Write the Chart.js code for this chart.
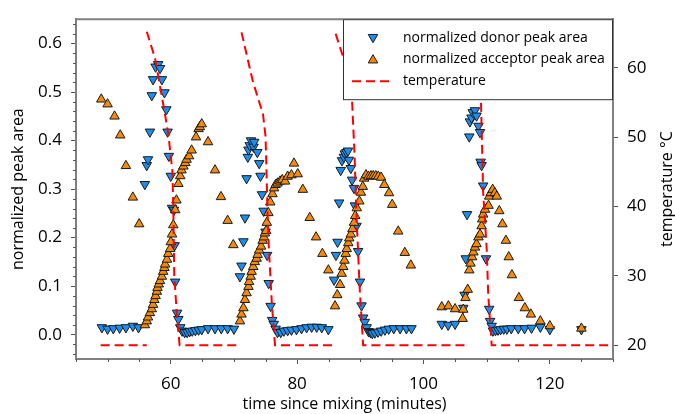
<!DOCTYPE html>
<html>
<head>
<meta charset="utf-8">
<script src="https://cdn.jsdelivr.net/npm/chart.js@4.4.1/dist/chart.umd.min.js"></script>
<style>
  html, body { margin: 0; padding: 0; background: #fff; }
  #wrap { width: 675px; height: 414px; position: relative; }
</style>
</head>
<body>
<div id="wrap"><canvas id="chart"></canvas></div>
<script>
"use strict";

// donor peak area (blue, inverted triangles)
const donorTime = [
  49.1, 50.0, 50.9, 51.9, 52.9, 54.0, 54.9,
  55.9, 56.2, 56.4, 56.7, 57.0, 57.2, 57.6, 58.0, 58.3, 58.6, 59.0, 59.3, 59.5, 59.7, 60.0, 60.2, 60.5, 60.6, 60.7, 61.0, 61.2, 61.5,
  61.8, 62.2, 62.6, 63.0, 63.4, 63.9, 64.4, 64.9, 65.9, 67.0, 68.0, 69.0, 70.0,
  70.95, 71.2, 71.5, 71.75, 72.0, 72.2, 72.3, 72.5, 72.7, 73.1, 73.2, 73.7, 74.0, 74.2, 74.45, 74.7, 75.0, 75.25, 75.5, 75.8, 76.05, 76.3,
  76.6, 76.9, 77.4, 77.9, 78.5, 79.1, 79.9, 80.7, 81.5, 82.3, 83.1, 83.9, 84.95,
  85.85, 86.15, 86.4, 86.65, 86.9, 87.1, 87.4, 87.55, 87.8, 88.05, 88.2, 88.5, 88.7, 89.0, 89.15, 89.4, 89.65, 89.95, 90.2, 90.45, 90.7, 91.0,
  91.3, 91.6, 91.9, 92.3, 92.8, 93.3, 93.9, 94.5, 95.3, 96.3, 97.3, 98.1,
  102.9, 103.9, 105.0, 106.3, 106.5, 106.7, 106.9, 107.25, 107.35, 107.6, 107.8, 108.15, 108.4, 108.7, 108.95, 109.05, 109.2, 109.45, 109.9, 110.4, 110.55, 110.8,
  111.0, 111.4, 111.8, 112.2, 112.7, 113.2, 113.9, 115.0, 116.0, 117.1, 118.5, 120.0, 125.0
];
const donorArea = [
  0.015, 0.012, 0.013, 0.014, 0.015, 0.018, 0.015,
  0.310, 0.349, 0.361, 0.418, 0.493, 0.526, 0.552, 0.557, 0.549, 0.526, 0.499, 0.464, 0.418, 0.368, 0.327, 0.261, 0.257, 0.184, 0.109, 0.045, 0.032, 0.015,
  0.008, 0.005, 0.005, 0.007, 0.008, 0.009, 0.010, 0.011, 0.013, 0.013, 0.013, 0.013, 0.012,
  0.120, 0.142, 0.192, 0.241, 0.322, 0.366, 0.381, 0.390, 0.400, 0.387, 0.397, 0.376, 0.353, 0.327, 0.289, 0.255, 0.212, 0.164, 0.106, 0.059, 0.030, 0.022,
  0.012, 0.005, 0.005, 0.008, 0.009, 0.010, 0.011, 0.013, 0.015, 0.016, 0.016, 0.015, 0.011,
  0.113, 0.164, 0.191, 0.272, 0.339, 0.359, 0.366, 0.373, 0.376, 0.379, 0.360, 0.343, 0.319, 0.302, 0.266, 0.224, 0.172, 0.109, 0.060, 0.035, 0.026, 0.015,
  0.007, 0.005, 0.003, 0.004, 0.006, 0.008, 0.010, 0.012, 0.013, 0.013, 0.013, 0.013,
  0.022, 0.020, 0.022, 0.055, 0.082, 0.157, 0.248, 0.408, 0.439, 0.447, 0.458, 0.462, 0.451, 0.430, 0.417, 0.356, 0.349, 0.307, 0.157, 0.053, 0.028, 0.018,
  0.008, 0.009, 0.010, 0.011, 0.012, 0.012, 0.013, 0.013, 0.013, 0.014, 0.016, 0.011, 0.011
];

// acceptor peak area (orange triangles)
const acceptorTime = [
  49.0, 50.0, 51.1, 52.0, 52.9, 54.0, 55.0,
  55.9, 56.2, 56.4, 56.7, 57.0, 57.2, 57.4, 57.6, 57.8, 57.9, 58.1, 58.3, 58.6, 58.8, 59.0, 59.1, 59.4, 59.6, 59.9, 60.0,
  60.2, 60.4, 60.7, 60.9, 61.2, 61.5, 61.7, 62.0, 62.3, 62.5, 62.9, 63.3, 64.0, 64.4, 64.6, 64.9,
  65.9, 67.0, 67.95, 69.0, 69.9,
  70.95, 71.2, 71.5, 71.75, 72.0, 72.3, 72.4, 72.65, 72.8, 73.05, 73.3, 73.6, 73.75, 74.0, 74.3, 74.55, 74.75, 74.9, 75.1, 75.2,
  75.45, 75.75, 76.1, 76.35, 76.6, 76.9, 77.3, 77.65, 78.1, 78.5, 79.1, 79.5, 80.1,
  80.9, 82.0, 83.0, 84.0, 84.95,
  86.0, 86.35, 86.8, 87.05, 87.3, 87.5, 87.7, 87.85, 88.1, 88.25, 88.5, 88.75, 89.0, 89.2, 89.45, 89.85, 90.1, 90.4, 90.6, 90.9,
  91.3, 91.7, 92.05, 92.45, 92.85, 93.3, 93.8, 94.55,
  95.05, 96.0, 97.05, 98.0,
  102.9, 103.95, 105.0, 106.2, 106.3, 106.65, 107.0, 107.25, 107.45, 107.7, 107.9, 108.15, 108.4, 108.7, 108.95, 109.2, 109.3, 109.45, 109.75, 110.3,
  110.4, 110.65, 110.95, 111.3, 111.6,
  112.0, 112.5, 113.05, 113.5, 114.0, 115.1, 116.05, 117.0, 118.5, 120.0, 125.0
];
const acceptorArea = [
  0.485, 0.475, 0.450, 0.411, 0.348, 0.283, 0.228,
  0.020, 0.028, 0.036, 0.045, 0.053, 0.062, 0.072, 0.080, 0.089, 0.097, 0.104, 0.111, 0.120, 0.130, 0.138, 0.145, 0.155, 0.167, 0.177, 0.191,
  0.207, 0.226, 0.257, 0.277, 0.311, 0.327, 0.339, 0.347, 0.354, 0.361, 0.368, 0.380, 0.407, 0.424, 0.428, 0.434,
  0.397, 0.339, 0.284, 0.235, 0.185,
  0.028, 0.042, 0.055, 0.072, 0.086, 0.099, 0.109, 0.120, 0.130, 0.140, 0.150, 0.157, 0.165, 0.174, 0.182, 0.194, 0.201, 0.209, 0.214, 0.231,
  0.251, 0.273, 0.290, 0.302, 0.309, 0.312, 0.316, 0.319, 0.316, 0.326, 0.329, 0.353, 0.331,
  0.299, 0.241, 0.201, 0.167, 0.133,
  0.059, 0.082, 0.103, 0.126, 0.140, 0.153, 0.167, 0.177, 0.189, 0.199, 0.207, 0.218, 0.231, 0.245, 0.261, 0.275, 0.293, 0.305, 0.322, 0.329,
  0.326, 0.327, 0.327, 0.327, 0.326, 0.324, 0.309, 0.292,
  0.268, 0.213, 0.169, 0.143,
  0.057, 0.059, 0.053, 0.033, 0.052, 0.076, 0.093, 0.133, 0.147, 0.160, 0.170, 0.180, 0.187, 0.201, 0.207, 0.224, 0.238, 0.248, 0.258, 0.266,
  0.285, 0.292, 0.299, 0.292, 0.285,
  0.255, 0.228, 0.194, 0.160, 0.123, 0.076, 0.055, 0.042, 0.028, 0.018, 0.013
];

// temperature trace, null = break in the line
const tempTime = [
  48.9, 56.2, 56.2,
  56.2, 57.5, 58.8, 59.6, 60.25, 60.4, 60.55, 61.0, 61.4, 70.9, 70.9,
  71.2, 73.0, 74.6, 75.0, 75.15, 75.3, 75.5, 76.0, 76.5, 85.9, 85.9,
  86.1, 87.2, 88.7, 89.1, 89.4, 89.9, 90.45, 106.8, 106.8,
  108.3, 108.8, 109.1, 109.45, 110.0, 110.25, 110.8, 130
];
const tempValue = [
  20, 20, null,
  65.2, 61.4, 54.8, 50.5, 45.2, 40, 30, 24, 20, 20, null,
  65.1, 58.0, 53.3, 50.1, 45.2, 39.6, 34.5, 26, 20, 20, null,
  64.9, 61.8, 55.2, 47.2, 38.7, 28.2, 20, 20, null,
  65, 60, 55.2, 42.0, 34.0, 27.3, 20, 20
];

const xTicks = [60, 80, 100, 120];
const xMinor = [45, 50, 55, 65, 70, 75, 85, 90, 95, 105, 110, 115, 125, 130];
const yTicks = [0, 0.1, 0.2, 0.3, 0.4, 0.5, 0.6];
const yMinor = [-0.04, -0.02, 0.02, 0.04, 0.06, 0.08, 0.12, 0.14, 0.16, 0.18, 0.22, 0.24, 0.26, 0.28,
  0.32, 0.34, 0.36, 0.38, 0.42, 0.44, 0.46, 0.48, 0.52, 0.54, 0.56, 0.58, 0.62, 0.64];
const y1Ticks = [20, 30, 40, 50, 60];

const FONT = "'Open Sans', sans-serif";
const BLUE = '#1b8ef0';
const ORANGE = '#f68a08';
const EDGE = '#1a1a1a';
const AXIS = '#808080';
const MARK = 5.5;

function toPoints(xs, ys)
{
    return xs.map((x, i) => ({x: x, y: ys[i]}));
}

function fixTicks(values)
{
    return function(scale) {
        scale.ticks = values.map(v => ({value: v}));
    };
}

// short minor ticks, top frame line, right title
const frameTicks = {
    id: 'frameTicks',
    afterDraw(chart)
    {
        const ctx = chart.ctx;
        const a = chart.chartArea;
        const xs = chart.scales.x;
        const ys = chart.scales.y;
        ctx.save();
        ctx.strokeStyle = '#555';
        ctx.lineWidth = 1;
        ctx.beginPath();
        xMinor.forEach(v => {
            const px = Math.round(xs.getPixelForValue(v)) + 0.5;
            ctx.moveTo(px, a.bottom);
            ctx.lineTo(px, a.bottom + 3);
        });
        yMinor.forEach(v => {
            const py = Math.round(ys.getPixelForValue(v)) + 0.5;
            ctx.moveTo(a.left - 3, py);
            ctx.lineTo(a.left, py);
        });
        ctx.stroke();
        ctx.strokeStyle = AXIS;
        ctx.lineWidth = 2;
        ctx.beginPath();
        ctx.moveTo(a.left - 1, a.top);
        ctx.lineTo(a.right + 1, a.top);
        ctx.stroke();

        // right axis title, reading upwards
        ctx.fillStyle = '#000';
        ctx.font = '16px ' + FONT;
        ctx.textAlign = 'center';
        ctx.textBaseline = 'middle';
        ctx.translate(667, (a.top + a.bottom) / 2);
        ctx.rotate(-Math.PI / 2);
        ctx.fillText('temperature \u00B0C', 0, 0);
        ctx.restore();
    }
};

// boxed legend in the top right corner of the plot
const boxLegend = {
    id: 'boxLegend',
    afterDraw(chart)
    {
        const ctx = chart.ctx;
        const a = chart.chartArea;
        const w = 270, h = 81;
        const x0 = a.right - w, y0 = a.top;
        ctx.save();
        ctx.fillStyle = '#fff';
        ctx.fillRect(x0, y0, w, h);
        ctx.strokeStyle = '#333';
        ctx.lineWidth = 1;
        ctx.strokeRect(x0 + 0.5, y0 + 0.5, w - 1, h - 1);

        ctx.lineWidth = 1;
        ctx.strokeStyle = EDGE;
        ctx.fillStyle = BLUE;
        Chart.helpers.drawPoint(ctx, {pointStyle: 'triangle', radius: MARK, rotation: 180, borderWidth: 1}, x0 + 30, y0 + 18);
        ctx.fillStyle = ORANGE;
        Chart.helpers.drawPoint(ctx, {pointStyle: 'triangle', radius: MARK, rotation: 0, borderWidth: 1}, x0 + 30, y0 + 41);

        ctx.strokeStyle = '#ff0000';
        ctx.lineWidth = 2;
        ctx.setLineDash([9, 5]);
        ctx.beginPath();
        ctx.moveTo(x0 + 9, y0 + 62);
        ctx.lineTo(x0 + 47, y0 + 62);
        ctx.stroke();
        ctx.setLineDash([]);

        ctx.fillStyle = '#000';
        ctx.font = '14px ' + FONT;
        ctx.textAlign = 'left';
        ctx.textBaseline = 'middle';
        ctx.fillText('normalized donor peak area', x0 + 60, y0 + 19);
        ctx.fillText('normalized acceptor peak area', x0 + 60, y0 + 40);
        ctx.fillText('temperature', x0 + 60, y0 + 62);
        ctx.restore();
    }
};

const tickFont = {family: FONT, size: 17};
const titleFont = {family: FONT, size: 16};

const ctx = document.getElementById('chart');
new Chart(ctx, {
    type: 'scatter',
    data: {
        datasets: [
            {
                label: 'temperature',
                data: toPoints(tempTime, tempValue),
                yAxisID: 'y1',
                showLine: true,
                spanGaps: false,
                borderColor: '#ff0000',
                borderWidth: 2,
                borderDash: [9, 5],
                pointRadius: 0,
                pointHoverRadius: 0,
                order: 0
            },
            {
                label: 'normalized acceptor peak area',
                data: toPoints(acceptorTime, acceptorArea),
                yAxisID: 'y',
                pointStyle: 'triangle',
                pointRadius: MARK,
                pointBackgroundColor: ORANGE,
                pointBorderColor: EDGE,
                pointBorderWidth: 1,
                order: 1
            },
            {
                label: 'normalized donor peak area',
                data: toPoints(donorTime, donorArea),
                yAxisID: 'y',
                pointStyle: 'triangle',
                pointRotation: 180,
                pointRadius: MARK,
                pointBackgroundColor: BLUE,
                pointBorderColor: EDGE,
                pointBorderWidth: 1,
                order: 2
            }
        ]
    },
    options: {
        responsive: true,
        maintainAspectRatio: false,
        animation: false,
        layout: { padding: { top: 14, left: 0, right: 0, bottom: 0 } },
        plugins: {
            legend: { display: false },
            tooltip: { enabled: false }
        },
        scales: {
            x: {
                type: 'linear',
                min: 45,
                max: 130,
                afterBuildTicks: fixTicks(xTicks),
                afterFit: s => { s.height = 55; },
                ticks: { font: tickFont, color: '#000', padding: 10, maxRotation: 0 },
                grid: { drawOnChartArea: false, tickLength: 5, color: '#555' },
                border: { color: AXIS, width: 2 },
                title: { display: true, text: 'time since mixing (minutes)', font: titleFont, color: '#000', padding: { top: 0, bottom: 0 } }
            },
            y: {
                type: 'linear',
                position: 'left',
                min: -0.05,
                max: 0.65,
                afterBuildTicks: fixTicks(yTicks),
                afterFit: s => { s.width = 76; },
                ticks: { font: tickFont, color: '#000', padding: 9, callback: v => v.toFixed(1) },
                grid: { drawOnChartArea: false, tickLength: 5, color: '#555' },
                border: { color: AXIS, width: 2 },
                title: { display: true, text: 'normalized peak area', font: titleFont, color: '#000', padding: { top: 9, bottom: 0 } }
            },
            y1: {
                type: 'linear',
                position: 'right',
                min: 18,
                max: 67,
                afterBuildTicks: fixTicks(y1Ticks),
                afterFit: s => { s.width = 62; },
                ticks: { font: tickFont, color: '#000', padding: 9 },
                grid: { drawOnChartArea: false, tickLength: 5, color: '#555' },
                border: { color: AXIS, width: 2 }
            }
        }
    },
    plugins: [frameTicks, boxLegend]
});
</script>
</body>
</html>
